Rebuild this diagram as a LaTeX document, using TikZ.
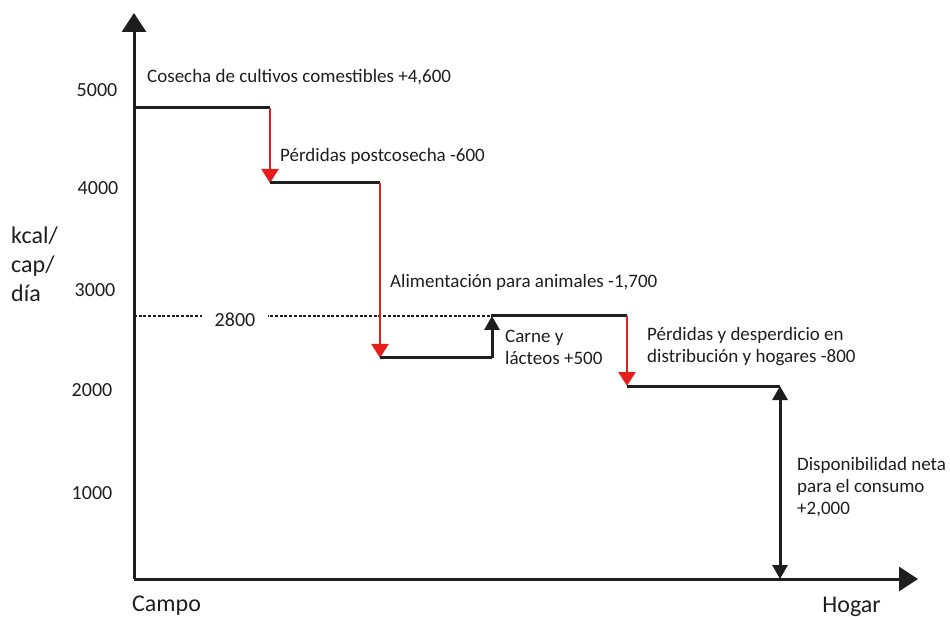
\documentclass[tikz,border=0pt]{standalone}
\usepackage{fontspec}
\setmainfont{Carlito}
\usetikzlibrary{arrows.meta}
\definecolor{ared}{RGB}{230,30,30}
\definecolor{ablk}{RGB}{30,30,30}
\begin{document}
\begin{tikzpicture}[x=1pt,y=-1pt,
  lbl/.style={font=\fontsize{19}{22}\selectfont,text=ablk,inner sep=0pt,anchor=west,align=left},
  tick/.style={font=\fontsize{20}{22}\selectfont,text=ablk,inner sep=0pt},
  big/.style={font=\fontsize{24}{29}\selectfont,text=ablk,inner sep=0pt},
  axis/.style={draw=ablk,line width=3pt,-{Triangle[length=19pt,width=24pt]}},
  stepline/.style={draw=ablk,line width=3pt},
  loss/.style={draw=ared,line width=2.4pt,-{Triangle[length=14pt,width=17pt]}},
  gain/.style={draw=ablk,line width=3pt,-{Triangle[length=14pt,width=15pt]}},
  both/.style={draw=ablk,line width=3pt,{Triangle[length=14pt,width=15pt]}-{Triangle[length=14pt,width=15pt]}}]
\useasboundingbox (0,0) rectangle (950,617);
\coordinate (O) at (134,579);
\coordinate (ytop) at (134,13);
\coordinate (xend) at (918,579);
\coordinate (a0) at (134,108);
\coordinate (a1) at (270,108);
\coordinate (b0) at (270,183);
\coordinate (b1) at (380,183);
\coordinate (c0) at (380,358);
\coordinate (c1) at (492,358);
\coordinate (d0) at (492,316);
\coordinate (d1) at (627,316);
\coordinate (e0) at (627,386);
\coordinate (e1) at (780,386);
\coordinate (f0) at (780,579);
\coordinate (dl) at (134,316);
% dotted reference line
\draw[draw=ablk,line width=2.4pt,dash pattern=on 3pt off 1.7pt] (dl) -- (d0);
\node[fill=white,inner xsep=13pt,inner ysep=5pt,font=\fontsize{20}{22}\selectfont,text=ablk] (n2800) at (235,320) {2800};
% axes
\draw[axis] (O) -- (ytop);
\draw[axis] (O) -- (xend);
% steps
\draw[stepline] (a0) -- (a1);
\draw[loss] (a1) -- (b0);
\draw[stepline] (b0) -- (b1);
\draw[loss] (b1) -- (c0);
\draw[stepline] (c0) -- (c1);
\draw[gain] (c1) -- (d0);
\draw[stepline] ([xshift=-1.5pt]d0) -- (d1);
\draw[loss] (d1) -- (e0);
\draw[stepline] (e0) -- (e1);
\draw[both] (e1) -- (f0);
% tick labels
\node[tick] (t5) at (97,90) {5000};
\node[tick] (t4) at (98,188) {4000};
\node[tick] (t3) at (95,290) {3000};
\node[tick] (t2) at (92,390) {2000};
\node[tick] (t1) at (92,493) {1000};
% axis labels
\node[big,anchor=west,align=left] (ylab) at (11,264) {kcal/\\cap/\\día};
\node[big,anchor=west] (campo) at (132,606) {Campo};
\node[big,anchor=east] (hogar) at (881,607) {Hogar};
% step labels
\node[lbl] (l1) at (147,77) {Cosecha de cultivos comestibles +4,600};
\node[lbl] (l2) at (280,156) {Pérdidas postcosecha -600};
\node[lbl] (l3) at (390,282) {Alimentación para animales -1,700};
\node[lbl] (l4) at (505,347) {Carne y\\lácteos +500};
\node[lbl] (l5) at (647,347) {Pérdidas y desperdicio en\\distribución y hogares -800};
\node[lbl] (l6) at (797,487) {Disponibilidad neta\\para el consumo\\+2,000};
\end{tikzpicture}
\end{document}
